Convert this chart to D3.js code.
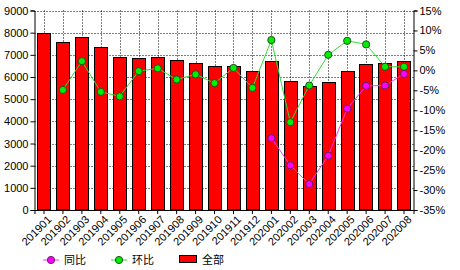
<!DOCTYPE html>
<html><head><meta charset="utf-8">
<script src="https://cdn.jsdelivr.net/npm/d3@7/dist/d3.min.js"></script>
<style>
html,body{margin:0;padding:0;background:#fff;}
text{font-family:"Liberation Sans",Arial,sans-serif;font-size:11px;fill:#000;}
.cjk{font-family:"Noto Sans CJK SC",sans-serif;}
</style></head><body>
<svg id="c" width="460" height="270"></svg>
<script>
const categories = ["201901","201902","201903","201904","201905","201906","201907","201908","201909","201910","201911","201912","202001","202002","202003","202004","202005","202006","202007","202008"];
const totalValues = [8000,7600,7800,7350,6900,6850,6900,6750,6650,6500,6500,6250,6700,5830,5600,5780,6250,6600,6650,6700];
const momValues = [null,-4.9,2.3,-5.4,-6.5,-0.2,0.5,-2.3,-1.0,-3.2,0.6,-4.4,7.6,-13.0,-3.8,3.9,7.4,6.5,0.9,0.9];
const yoyValues = [null,null,null,null,null,null,null,null,null,null,null,null,-17.0,-23.8,-28.5,-21.4,-9.6,-3.9,-3.8,-0.9];
const leftTicks = [0,1000,2000,3000,4000,5000,6000,7000,8000,9000];
const rightTicks = [-35,-30,-25,-20,-15,-10,-5,0,5,10,15];
const legendLabels = ["同比","环比","全部"];

const svg = d3.select("#c");
const L = 34.5, R = 413.5, T = 10.5, B = 210;
const x = d3.scaleBand().domain(categories).range([L, R]).paddingInner(0.3).paddingOuter(0.15);
const xc = d => x(d) + x.bandwidth()/2;
const yL = d3.scaleLinear().domain([0, 9000]).range([B, T]);
const yR = d3.scaleLinear().domain([-35, 15]).range([B, T]);

// gridlines
const g = svg.append("g");
g.selectAll(".hg").data(leftTicks.filter(t => t > 0)).join("line")
  .attr("x1", L).attr("x2", R).attr("y1", d => Math.round(yL(d))+0.5).attr("y2", d => Math.round(yL(d))+0.5)
  .attr("stroke", "#000").attr("stroke-dasharray", "1,2");
g.selectAll(".vg").data(categories).join("line")
  .attr("x1", d => Math.round(xc(d))+0.5).attr("x2", d => Math.round(xc(d))+0.5).attr("y1", T).attr("y2", B)
  .attr("stroke", "#000").attr("stroke-dasharray", "1,2");

// bars
svg.append("g").selectAll("rect").data(categories).join("rect")
  .attr("x", d => Math.round(x(d))+0.5).attr("width", Math.round(x.bandwidth()))
  .attr("y", (d,i) => Math.round(yL(totalValues[i]))+0.5)
  .attr("height", (d,i) => B - Math.round(yL(totalValues[i])) - 0.5)
  .attr("fill", "#ff0000").attr("stroke", "#000").attr("stroke-width", 1);

// axes
const axL = d3.axisLeft(yL).tickValues(leftTicks).tickSize(4).tickPadding(2).tickFormat(d3.format("d"));
const gL = svg.append("g").attr("transform", `translate(${L},0)`).call(axL);
const axR = d3.axisRight(yR).tickValues(rightTicks).tickSize(4).tickPadding(2).tickFormat(d => d + "%");
const gR = svg.append("g").attr("transform", `translate(${R},0)`).call(axR);
const axB = d3.axisBottom(x).tickSize(4).tickPadding(2);
const gB = svg.append("g").attr("transform", `translate(0,${B})`).call(axB);
[gL, gR, gB].forEach(a => {
  a.select(".domain").attr("stroke", "#000");
  a.selectAll(".tick line").attr("stroke", "#000");
  a.selectAll("text").attr("font-size", null).attr("font-family", null);
});
gL.attr("font-family", null).attr("font-size", null);
gR.attr("font-family", null).attr("font-size", null);
gB.attr("font-family", null).attr("font-size", null);
gB.selectAll("text").attr("text-anchor", "end").attr("dy", null)
  .attr("transform", "translate(4,6) rotate(-45)");

// lines
const lineGen = yS => d3.line().defined(d => d.v !== null).x(d => xc(d.c)).y(d => yS(d.v));
const momData = categories.map((c,i) => ({c, v: momValues[i]}));
const yoyData = categories.map((c,i) => ({c, v: yoyValues[i]}));
function series(data, lineColor, fill, stroke) {
  svg.append("path").datum(data).attr("d", lineGen(yR)).attr("fill", "none").attr("stroke", lineColor).attr("stroke-width", 1);
  svg.append("g").selectAll("circle").data(data.filter(d => d.v !== null)).join("circle")
    .attr("cx", d => xc(d.c)).attr("cy", d => yR(d.v)).attr("r", 3.6)
    .attr("fill", fill).attr("stroke", stroke).attr("stroke-width", 1);
}
series(momData, "#33dd33", "#00ee00", "#205020");
series(yoyData, "#ff33ff", "#ff00ff", "#602060");

// legend
const lg = svg.append("g");
const ly = 260;
[[43, "#ff33ff", "#ff00ff", "#602060", legendLabels[0]], [111, "#33dd33", "#00ee00", "#205020", legendLabels[1]]].forEach(([x0, lc, f, s, t]) => {
  lg.append("line").attr("x1", x0).attr("x2", x0+16).attr("y1", ly).attr("y2", ly).attr("stroke", lc);
  lg.append("circle").attr("cx", x0+8).attr("cy", ly).attr("r", 3.6).attr("fill", f).attr("stroke", s);
  lg.append("text").attr("class", "cjk").attr("x", x0+21).attr("y", ly+4).text(t);
});
lg.append("rect").attr("x", 179.5).attr("y", 255.5).attr("width", 17).attr("height", 7).attr("fill", "#ff0000").attr("stroke", "#000");
lg.append("text").attr("class", "cjk").attr("x", 202).attr("y", ly+4).text(legendLabels[2]);
</script></body></html>
